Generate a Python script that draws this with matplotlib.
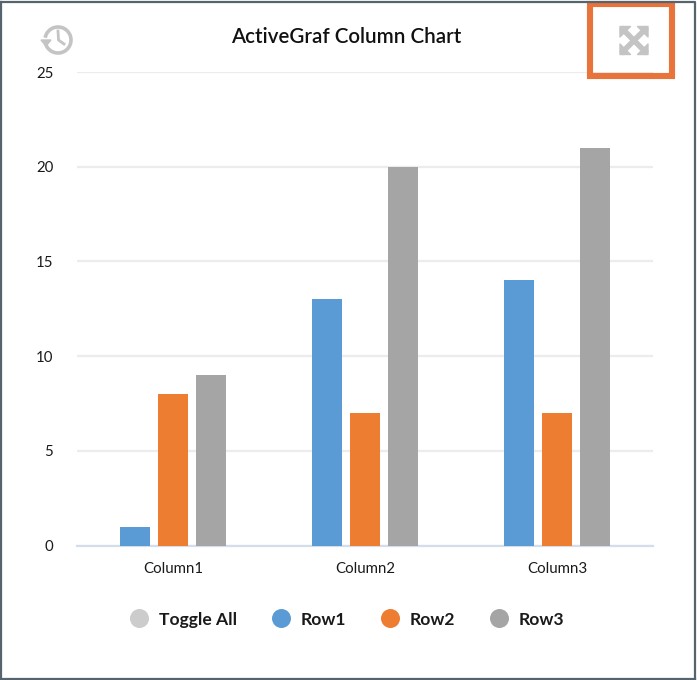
import matplotlib
matplotlib.use("Agg")
import matplotlib.pyplot as plt
from matplotlib.patches import Arc, Polygon, Rectangle

plt.rcParams['font.family'] = ['Lato', 'DejaVu Sans']

categories = ["Column1", "Column2", "Column3"]
row1 = [1, 13, 14]
row2 = [8, 7, 7]
row3 = [9, 20, 21]
yticks = [0, 5, 10, 15, 20, 25]
legend_labels = ["Toggle All", "Row1", "Row2", "Row3"]

W, H = 697, 680
BLUE = "#5b9bd5"
ORANGE = "#ed7d31"
GRAY = "#a5a5a5"
ICON = "#c4c4c4"

fig = plt.figure(figsize=(W / 100, H / 100), dpi=100)

# main plot, placed by pixel
left, right, top, bottom = 77, 653, 72, 545.5
ax = fig.add_axes([left / W, 1 - bottom / H, (right - left) / W, (bottom - top) / H])
xs = range(len(categories))
width = 0.156
step = 0.2
ax.bar([x - step for x in xs], row1, width, color=BLUE, zorder=3)
ax.bar([x + 0.0 for x in xs], row2, width, color=ORANGE, zorder=3)
ax.bar([x + step for x in xs], row3, width, color=GRAY, zorder=3)
ax.set_xlim(-0.5, 2.5)
ax.set_ylim(0, 25)
ax.set_yticks(yticks)
ax.set_xticks(list(xs))
ax.set_xticklabels(categories)
ax.grid(axis="y", color="#ececec", lw=1.6, zorder=0)
ax.set_axisbelow(True)
ax.tick_params(axis="both", length=0, labelsize=10.8, labelcolor="#1a1a1a")
ax.tick_params(axis="x", pad=12)
ax.tick_params(axis="y", pad=17)
for s in ["top", "left", "right"]:
    ax.spines[s].set_visible(False)
ax.spines["bottom"].set_color("#d5dcec")
ax.spines["bottom"].set_linewidth(1.6)

# overlay in pixel coordinates for frame, title, icons, legend
ov = fig.add_axes([0, 0, 1, 1], zorder=5)
ov.set_xlim(0, W)
ov.set_ylim(H, 0)
ov.axis("off")
ov.patch.set_alpha(0)

# screenshot frame
ov.plot([0.5, 695, 695], [2, 2, 679], color="#56646e", lw=1.6, clip_on=False)
ov.plot([0.5, 695], [679, 679], color="#56646e", lw=1.6)
ov.plot([0.5, 0.5], [2, 679], color="#56646e", lw=1.6)

ov.text(346, 37, "ActiveGraf Column Chart", ha="center", va="center",
        fontsize=14.8, fontweight="semibold", color="#111111")

# highlight box around the expand icon
ov.add_patch(Rectangle((590, 3.5), 82, 72.5, fill=False, ec="#e8743b", lw=4.4))

# history icon
ov.add_patch(Arc((58, 40), 26, 26, theta1=-170, theta2=165, color=ICON, lw=2.6))
ov.add_patch(Polygon([[41, 40], [51, 40], [46, 46]], color=ICON))
ov.plot([58, 58.5, 64], [31, 40, 44], color=ICON, lw=2)

# expand icon
c = (634, 40.5)
ov.plot([c[0] - 11, c[0] + 11], [c[1] - 11, c[1] + 11], color=ICON, lw=4)
ov.plot([c[0] - 11, c[0] + 11], [c[1] + 11, c[1] - 11], color=ICON, lw=4)
for sx in (-1, 1):
    for sy in (-1, 1):
        ov.add_patch(Polygon([[c[0] + sx * 14, c[1] + sy * 14],
                              [c[0] + sx * 3.5, c[1] + sy * 14],
                              [c[0] + sx * 14, c[1] + sy * 3.5]],
                             color=ICON, joinstyle="round", lw=1))

# legend
legend_colors = ["#cccccc", BLUE, ORANGE, GRAY]
marker_x = [139, 281, 390, 499]
for mx, lab, col in zip(marker_x, legend_labels, legend_colors):
    ov.scatter([mx], [617.5], s=187, color=col, linewidths=0)
    ov.text(mx + 20, 620, lab, ha="left", va="center", fontsize=12.6,
            fontweight="bold", color="#1a1a1a")

fig.savefig("out.png", dpi=100)
